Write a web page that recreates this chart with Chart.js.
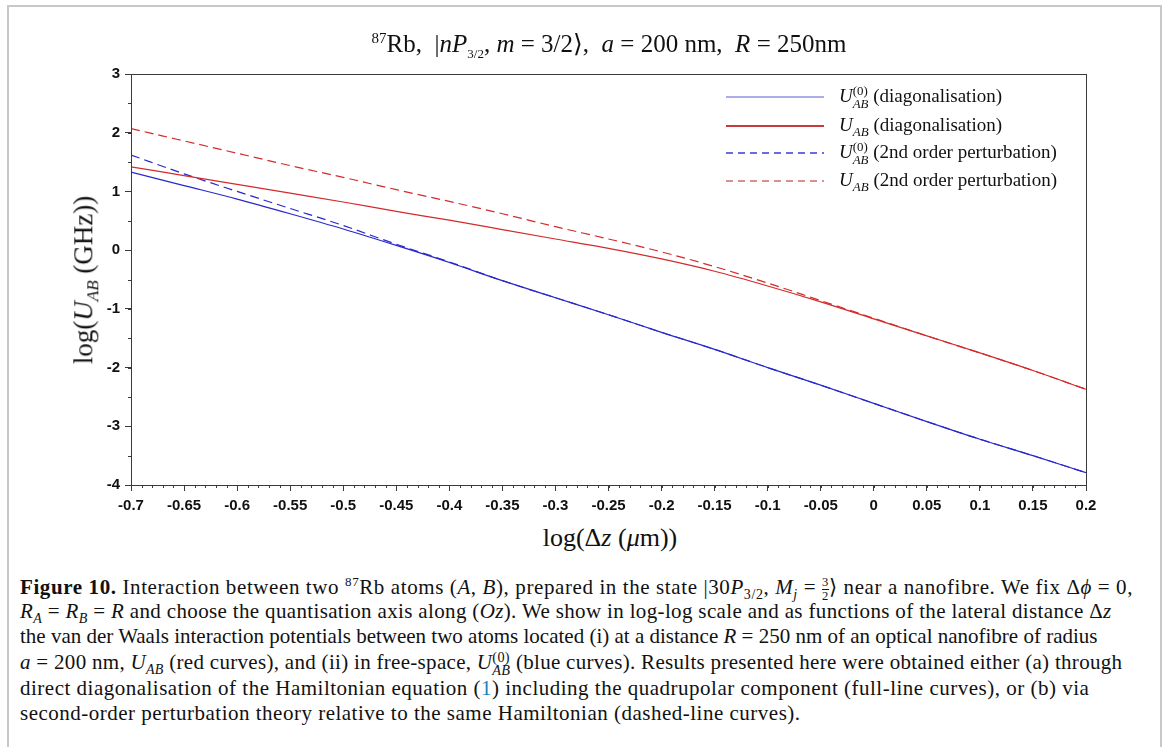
<!DOCTYPE html>
<html>
<head>
<meta charset="utf-8">
<script src="https://cdn.jsdelivr.net/npm/chart.js@4/dist/chart.umd.min.js"></script>
<style>
  html, body { margin: 0; padding: 0; background: #fff; }
  body { width: 1167px; height: 747px; position: relative; overflow: hidden; }
  #frame { position: absolute; left: 7px; top: 5px; width: 1155px; height: 760px;
    border: 2px solid #c8c8c8; border-bottom: none; box-sizing: border-box; }
  #box { position: absolute; left: 0; top: 0; width: 1167px; height: 520px; }
  .serif { font-family: "Liberation Serif", "DejaVu Serif", serif; color: #111; }
  #title { position: absolute; left: 0; width: 1218px; top: 29px; text-align: center; font-size: 25px; white-space: nowrap; }
  #ytitle { position: absolute; left: 86px; top: 280px; font-size: 27px; white-space: nowrap;
    transform: translate(-50%, -50%) rotate(-90deg); }
  #xtitle { position: absolute; left: 610px; top: 538px; font-size: 26px; white-space: nowrap;
    transform: translate(-50%, -50%); }
  #legend { position: absolute; left: 726px; top: 84px; }
  .row { position: absolute; left: 0; height: 26px; white-space: nowrap; font-size: 19px; }
  .row svg { position: absolute; left: 0; top: 0; }
  .row > span { position: absolute; left: 113px; top: 1px; }
  .ss { display: inline-block; vertical-align: middle; line-height: 0.95; font-size: 0.68em; text-align: left; }
  .ss b { display: block; font-weight: normal; }
  #caption { position: absolute; left: 20px; top: 574px; font-size: 21px; letter-spacing: 0.35px; }
  #caption div { position: absolute; left: 0; white-space: nowrap; }
  .frac { display: inline-block; vertical-align: middle; font-size: 0.6em; text-align: center; line-height: 1; }
  .frac b { display: block; font-weight: normal; }
  .frac b + b { border-top: 1px solid #111; }
  a { color: #1a7fc1; text-decoration: none; }
</style>
</head>
<body>
<div id="frame"></div>
<div id="box"><canvas id="chart"></canvas></div>

<div id="title" class="serif"><sup style="font-size:15px">87</sup>Rb, &nbsp;|<i>nP</i><sub style="font-size:13px">3/2</sub>, <i>m</i> = 3/2⟩, &nbsp;<i>a</i> = 200 nm, &nbsp;<i>R</i> = 250nm</div>
<div id="ytitle" class="serif">log(<i>U</i><sub style="font-size:17px"><i>AB</i></sub> (GHz))</div>
<div id="xtitle" class="serif">log(Δ<i>z</i> (<i>μ</i>m))</div>
<div id="legend" class="serif"></div>

<div id="caption" class="serif">
  <div style="top:0px;letter-spacing:0.6px"><b>Figure 10.</b> Interaction between two <sup style="font-size:13px">87</sup>Rb atoms (<i>A</i>, <i>B</i>), prepared in the state |30<i>P</i><sub style="font-size:14px">3/2</sub>, <i>M<sub style="font-size:14px">j</sub></i> = <span class="frac"><b>3</b><b>2</b></span>⟩ near a nanofibre. We fix Δ<i>ϕ</i> = 0,</div>
  <div style="top:25px"><i>R<sub style="font-size:14px">A</sub></i> = <i>R<sub style="font-size:14px">B</sub></i> = <i>R</i> and choose the quantisation axis along (<i>Oz</i>). We show in log-log scale and as functions of the lateral distance Δ<i>z</i></div>
  <div style="top:50px;letter-spacing:0px">the van der Waals interaction potentials between two atoms located (i) at a distance <i>R</i> = 250 nm of an optical nanofibre of radius</div>
  <div style="top:76px;letter-spacing:0.3px"><i>a</i> = 200 nm, <i>U<sub style="font-size:14px">AB</sub></i> (red curves), and (ii) in free-space, <i>U</i><span class="ss"><b>(0)</b><b><i>AB</i></b></span> (blue curves). Results presented here were obtained either (a) through</div>
  <div style="top:102px;letter-spacing:0.5px">direct diagonalisation of the Hamiltonian equation (<a>1</a>) including the quadrupolar component (full-line curves), or (b) via</div>
  <div style="top:127px;letter-spacing:0.5px">second-order perturbation theory relative to the same Hamiltonian (dashed-line curves).</div>
</div>

<script>
// --- data (log10 values) ---
const logDz = [-0.7, -0.65, -0.6, -0.55, -0.5, -0.45, -0.4, -0.35, -0.3, -0.25,
               -0.2, -0.15, -0.1, -0.05, 0, 0.05, 0.1, 0.15, 0.2];
// free space, diagonalisation
const u0Diag = [1.33, 1.10, 0.87, 0.62, 0.36, 0.08, -0.21, -0.52, -0.81, -1.10,
                -1.40, -1.69, -2.00, -2.30, -2.61, -2.92, -3.22, -3.50, -3.79];
// nanofibre, diagonalisation
const uDiag = [1.42, 1.27, 1.12, 0.97, 0.82, 0.66, 0.51, 0.35, 0.19, 0.03,
               -0.15, -0.36, -0.61, -0.88, -1.17, -1.46, -1.75, -2.05, -2.37];
// free space, 2nd order perturbation
const u0Pert = [1.62, 1.30, 1.00, 0.71, 0.42, 0.10, -0.20, -0.52, -0.81, -1.10,
                -1.40, -1.69, -2.00, -2.30, -2.61, -2.92, -3.22, -3.50, -3.79];
// nanofibre, 2nd order perturbation
const uPert = [2.07, 1.86, 1.65, 1.44, 1.24, 1.03, 0.83, 0.62, 0.40, 0.19,
               -0.03, -0.28, -0.56, -0.86, -1.16, -1.46, -1.75, -2.05, -2.37];

const xRange = [-0.7, 0.2];
const yRange = [-4, 3];
const xStep = 0.05, xMinorStep = 0.01;
const yStep = 1, yMinorStep = 0.5;

const legendLabels = [
  '<i>U</i><span class="ss"><b>(0)</b><b><i>AB</i></b></span> (diagonalisation)',
  '<i>U</i><sub style="font-size:13px"><i>AB</i></sub> (diagonalisation)',
  '<i>U</i><span class="ss"><b>(0)</b><b><i>AB</i></b></span> (2nd order perturbation)',
  '<i>U</i><sub style="font-size:13px"><i>AB</i></sub> (2nd order perturbation)'
];
const legendColors = ['#5a5ad8', '#c83a3a', '#3a3ad8', '#d06a6a'];
const legendWidths = [1.2, 2.2, 1.6, 1.4];
const legendRows = [0, 29, 56, 84];

const BLUE = '#2828cc';
const RED = '#d42a2a';
const pts = arr => logDz.map((x, i) => ({ x, y: arr[i] }));

const datasets = [
  { data: pts(u0Diag), borderColor: BLUE, borderWidth: 1.2, borderDash: [] },
  { data: pts(uDiag), borderColor: RED, borderWidth: 1.2, borderDash: [] },
  { data: pts(u0Pert), borderColor: BLUE, borderWidth: 1.2, borderDash: [9, 5] },
  { data: pts(uPert), borderColor: RED, borderWidth: 1.2, borderDash: [9, 5] }
];

const fmt = v => Number(v.toFixed(2)).toString();
const axisColor = '#3a3a3a';
const tickFont = { family: '"Liberation Sans", Arial, sans-serif', size: 15, weight: 'bold' };

// frame + minor ticks
const framePlugin = {
  id: 'framePlugin',
  afterDraw(chart) {
    const { ctx, chartArea: a, scales: { x, y } } = chart;
    ctx.save();
    ctx.strokeStyle = axisColor;
    ctx.lineWidth = 1;
    ctx.strokeRect(a.left + 0.5, a.top + 0.5, a.right - a.left, a.bottom - a.top);
    ctx.beginPath();
    for (let v = xRange[0]; v <= xRange[1] + 1e-9; v += xMinorStep) {
      const px = Math.round(x.getPixelForValue(v)) + 0.5;
      ctx.moveTo(px, a.bottom); ctx.lineTo(px, a.bottom + 3);
    }
    for (let v = yRange[0]; v <= yRange[1] + 1e-9; v += yMinorStep) {
      const py = Math.round(y.getPixelForValue(v)) + 0.5;
      ctx.moveTo(a.left, py); ctx.lineTo(a.left - 3, py);
    }
    ctx.stroke();
    ctx.restore();
  }
};

new Chart(document.getElementById('chart'), {
  type: 'line',
  data: { datasets: datasets.map(d => Object.assign({ pointRadius: 0, fill: false, cubicInterpolationMode: 'monotone' }, d)) },
  options: {
    responsive: true,
    maintainAspectRatio: false,
    animation: false,
    layout: { padding: { left: 91, right: 81, top: 74, bottom: 5 } },
    plugins: { legend: { display: false }, tooltip: { enabled: false } },
    scales: {
      x: {
        type: 'linear', min: xRange[0], max: xRange[1],
        afterFit: s => { s.height = 30; },
        ticks: { stepSize: xStep, color: '#111', font: tickFont, padding: 6, maxRotation: 0, autoSkip: false, callback: fmt },
        grid: { drawOnChartArea: false, color: axisColor, tickLength: 6 },
        border: { color: axisColor }
      },
      y: {
        type: 'linear', min: yRange[0], max: yRange[1],
        afterFit: s => { s.width = 40; },
        ticks: { stepSize: yStep, color: '#111', font: tickFont, padding: 5, callback: fmt },
        grid: { drawOnChartArea: false, color: axisColor, tickLength: 6 },
        border: { color: axisColor }
      }
    }
  },
  plugins: [framePlugin]
});

// html legend built from the datasets
const legend = document.getElementById('legend');
datasets.forEach((d, i) => {
  const row = document.createElement('div');
  row.className = 'row';
  row.style.top = legendRows[i] + 'px';
  const dash = d.borderDash.length ? 'stroke-dasharray="7 5"' : '';
  row.innerHTML =
    '<svg width="98" height="26"><line x1="0" y1="13" x2="98" y2="13" stroke="' + legendColors[i] +
    '" stroke-width="' + legendWidths[i] + '" ' + dash + '/></svg>' +
    '<span>' + legendLabels[i] + '</span>';
  legend.appendChild(row);
});
</script>
</body>
</html>
